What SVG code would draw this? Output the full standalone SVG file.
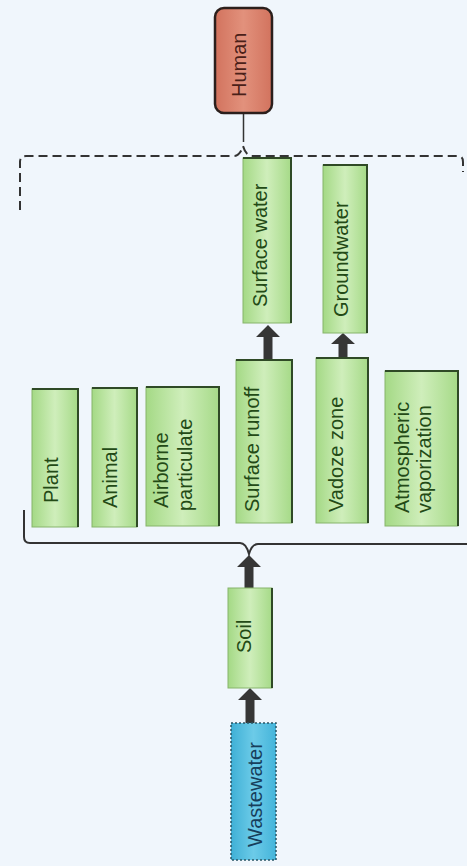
<svg xmlns="http://www.w3.org/2000/svg" width="467" height="866" viewBox="0 0 467 866">
<defs>
<linearGradient id="g" x1="0" y1="0" x2="1" y2="0">
<stop offset="0" stop-color="#a4d985"/>
<stop offset="0.5" stop-color="#cfeebb"/>
<stop offset="1" stop-color="#a6da88"/>
</linearGradient>
<linearGradient id="b" x1="0" y1="0" x2="1" y2="0">
<stop offset="0" stop-color="#3fb0d6"/>
<stop offset="0.5" stop-color="#6ccbe8"/>
<stop offset="1" stop-color="#44b4da"/>
</linearGradient>
<linearGradient id="h" x1="0" y1="0" x2="1" y2="0">
<stop offset="0" stop-color="#d2735e"/>
<stop offset="0.5" stop-color="#e2917c"/>
<stop offset="1" stop-color="#d2735e"/>
</linearGradient>
</defs>
<style>
.box{fill:url(#g);stroke:#86b46a;stroke-width:1}
.edge{stroke:#2f4a26;stroke-width:2;fill:none}
.t{font-family:"Liberation Sans",Arial,sans-serif;font-size:20px;fill:#234a16}
.arr{fill:#363636}
.brace{fill:none;stroke:#333;stroke-width:2}
</style>
<rect width="467" height="866" fill="#f0f6fc"/>

<g id="connectors">
<path d="M243.5,113 V142" fill="none" stroke="#333" stroke-width="1.5"/>
<path class="brace" stroke="#555" stroke-width="1.6" stroke-dasharray="9 5" d="M20,210 V162 Q20,156 26,156 H234 Q240,156 243,146 Q246,156 252,156 H458 Q463,156 463,162 V172"/>
<path class="brace" d="M24,510 V537 Q24,543 30,543 H240 Q246,543 249,554 Q252,544 258,544 H467"/>
<path class="arr" d="M268,325 L280,337 H272.5 V360 H263.5 V337 H256 Z"/>
<path class="arr" d="M343,333 L355,344 H347.5 V358 H338.5 V344 H331 Z"/>
<path class="arr" d="M249,555 L261,567 H253.5 V588 H244.5 V567 H237 Z"/>
<path class="arr" d="M250,688 L262,700 H254.5 V723 H245.5 V700 H238 Z"/>
</g>

<g id="human">
<rect x="215" y="8" width="57" height="105" rx="9" fill="url(#h)" stroke="#2b1f1c" stroke-width="2.5"/>
<text class="t" style="fill:#4a2018" transform="translate(246,97) rotate(-90)">Human</text>
</g>

<g id="surface-water">
<rect class="box" x="243" y="158" width="48" height="165"/>
<path class="edge" d="M243,158 H291 V323"/>
<text class="t" transform="translate(267,307) rotate(-90)">Surface water</text>
</g>

<g id="groundwater">
<rect class="box" x="323" y="165" width="44" height="168"/>
<path class="edge" d="M323,165 H367 V333"/>
<text class="t" transform="translate(348,317) rotate(-90)">Groundwater</text>
</g>

<g id="plant">
<rect class="box" x="32" y="389" width="46" height="138"/>
<path class="edge" d="M32,389 H78 V527"/>
<text class="t" transform="translate(58,503) rotate(-90)">Plant</text>
</g>

<g id="animal">
<rect class="box" x="92" y="388" width="45" height="139"/>
<path class="edge" d="M92,388 H137 V527"/>
<text class="t" transform="translate(117,508) rotate(-90)">Animal</text>
</g>

<g id="airborne-particulate">
<rect class="box" x="146" y="387" width="73" height="139"/>
<path class="edge" d="M146,387 H219 V526"/>
<text class="t" transform="translate(168,508) rotate(-90)">Airborne</text>
<text class="t" transform="translate(192,511) rotate(-90)">particulate</text>
</g>

<g id="surface-runoff">
<rect class="box" x="236" y="360" width="56" height="163"/>
<path class="edge" d="M236,360 H292 V523"/>
<text class="t" transform="translate(259,512) rotate(-90)">Surface runoff</text>
</g>

<g id="vadoze-zone">
<rect class="box" x="316" y="358" width="52" height="165"/>
<path class="edge" d="M316,358 H368 V523"/>
<text class="t" transform="translate(343,512) rotate(-90)">Vadoze zone</text>
</g>

<g id="atmospheric-vaporization">
<rect class="box" x="385" y="371" width="73" height="155"/>
<path class="edge" d="M385,371 H458 V526"/>
<text class="t" transform="translate(409,513) rotate(-90)">Atmospheric</text>
<text class="t" transform="translate(431,513) rotate(-90)">vaporization</text>
</g>

<g id="soil">
<rect class="box" x="228" y="588" width="44" height="100"/>
<path class="edge" d="M272,588 V688"/>
<text class="t" transform="translate(251,653) rotate(-90)">Soil</text>
</g>

<g id="wastewater">
<rect x="231" y="723" width="45" height="137" fill="url(#b)" stroke="#2a5566" stroke-width="1.5" stroke-dasharray="2 2"/>
<text class="t" style="fill:#173f5c" transform="translate(262,847) rotate(-90)">Wastewater</text>
</g>
</svg>
